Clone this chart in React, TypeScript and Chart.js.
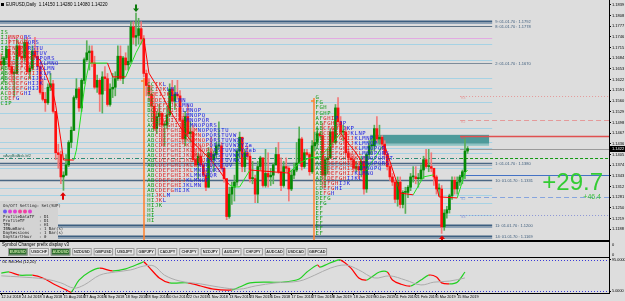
import React, { useEffect, useRef } from 'react';
import { Chart, registerables } from 'chart.js';

Chart.register(...registerables);

/* ----------------------------- data ----------------------------- */
const openP = [
  1.1675, 1.1665, 1.1685, 1.1710, 1.1660, 1.1640, 1.1640, 1.1720, 1.1690, 1.1685,
  1.1730, 1.1645, 1.1655, 1.1705, 1.1690, 1.1660, 1.1585, 1.1565, 1.1555, 1.1600,
  1.1610, 1.1530, 1.1410, 1.1405, 1.1340, 1.1345, 1.1375, 1.1440, 1.1475, 1.1570,
  1.1595, 1.1540, 1.1620, 1.1680, 1.1700, 1.1705, 1.1670, 1.1600, 1.1620, 1.1580,
  1.1630, 1.1625, 1.1550, 1.1595, 1.1600, 1.1625, 1.1690, 1.1625, 1.1685, 1.1665,
  1.1675, 1.1775, 1.1745, 1.1750, 1.1770, 1.1740, 1.1640, 1.1605, 1.1580, 1.1545,
  1.1480, 1.1515, 1.1525, 1.1490, 1.1490, 1.1520, 1.1595, 1.1560, 1.1580, 1.1575,
  1.1505, 1.1450, 1.1515, 1.1465, 1.1470, 1.1390, 1.1375, 1.1400, 1.1375, 1.1345,
  1.1310, 1.1410, 1.1390, 1.1405, 1.1430, 1.1430, 1.1365, 1.1335, 1.1225, 1.1290,
  1.1310, 1.1325, 1.1415, 1.1455, 1.1370, 1.1410, 1.1400, 1.1335, 1.1335, 1.1290,
  1.1370, 1.1395, 1.1315, 1.1350, 1.1340, 1.1345, 1.1375, 1.1405, 1.1355, 1.1315,
  1.1370, 1.1365, 1.1305, 1.1345, 1.1360, 1.1380, 1.1450, 1.1370, 1.1410, 1.1405,
  1.1355, 1.1430, 1.1440, 1.1465, 1.1460, 1.1345, 1.1390, 1.1395, 1.1470, 1.1440,
  1.1540, 1.1500, 1.1470, 1.1470, 1.1410, 1.1395, 1.1390, 1.1365, 1.1370, 1.1360,
  1.1385, 1.1305, 1.1405, 1.1430, 1.1430, 1.1480, 1.1450, 1.1455, 1.1435, 1.1405,
  1.1370, 1.1340, 1.1325, 1.1275, 1.1325, 1.1260, 1.1295, 1.1295, 1.1310, 1.1340,
  1.1340, 1.1335, 1.1335, 1.1360, 1.1390, 1.1370, 1.1370, 1.1365, 1.1340, 1.1305,
  1.1305, 1.1195, 1.1235, 1.1245, 1.1285, 1.1330, 1.1305, 1.1325, 1.1340, 1.1355,
  1.1415,
];
const highP = [
  1.1697, 1.1690, 1.1720, 1.1745, 1.1675, 1.1650, 1.1740, 1.1730, 1.1720, 1.1740,
  1.1745, 1.1665, 1.1720, 1.1745, 1.1715, 1.1665, 1.1625, 1.1585, 1.1610, 1.1640,
  1.1620, 1.1530, 1.1435, 1.1415, 1.1355, 1.1405, 1.1445, 1.1485, 1.1575, 1.1625,
  1.1600, 1.1625, 1.1685, 1.1735, 1.1720, 1.1720, 1.1690, 1.1635, 1.1625, 1.1645,
  1.1660, 1.1640, 1.1610, 1.1640, 1.1645, 1.1720, 1.1720, 1.1690, 1.1700, 1.1720,
  1.1790, 1.1790, 1.1815, 1.1800, 1.1790, 1.1750, 1.1650, 1.1625, 1.1605, 1.1585,
  1.1530, 1.1550, 1.1525, 1.1500, 1.1545, 1.1610, 1.1620, 1.1605, 1.1620, 1.1590,
  1.1515, 1.1530, 1.1550, 1.1500, 1.1490, 1.1415, 1.1410, 1.1430, 1.1385, 1.1360,
  1.1425, 1.1455, 1.1415, 1.1440, 1.1500, 1.1440, 1.1370, 1.1335, 1.1310, 1.1325,
  1.1345, 1.1420, 1.1470, 1.1455, 1.1420, 1.1430, 1.1410, 1.1385, 1.1345, 1.1385,
  1.1400, 1.1395, 1.1420, 1.1410, 1.1365, 1.1380, 1.1425, 1.1440, 1.1395, 1.1385,
  1.1395, 1.1370, 1.1360, 1.1380, 1.1440, 1.1485, 1.1455, 1.1420, 1.1420, 1.1410,
  1.1445, 1.1470, 1.1480, 1.1470, 1.1495, 1.1400, 1.1420, 1.1480, 1.1485, 1.1550,
  1.1570, 1.1515, 1.1490, 1.1485, 1.1420, 1.1410, 1.1405, 1.1385, 1.1385, 1.1400,
  1.1400, 1.1410, 1.1445, 1.1450, 1.1490, 1.1515, 1.1490, 1.1460, 1.1445, 1.1410,
  1.1380, 1.1350, 1.1330, 1.1340, 1.1340, 1.1300, 1.1310, 1.1315, 1.1350, 1.1370,
  1.1370, 1.1350, 1.1375, 1.1400, 1.1420, 1.1420, 1.1410, 1.1365, 1.1345, 1.1320,
  1.1315, 1.1245, 1.1255, 1.1290, 1.1340, 1.1340, 1.1340, 1.1345, 1.1360, 1.1450,
  1.1428,
];
const lowP = [
  1.1649, 1.1615, 1.1680, 1.1650, 1.1615, 1.1575, 1.1640, 1.1690, 1.1660, 1.1675,
  1.1640, 1.1625, 1.1650, 1.1685, 1.1650, 1.1580, 1.1560, 1.1530, 1.1550, 1.1590,
  1.1525, 1.1390, 1.1365, 1.1320, 1.1301, 1.1345, 1.1370, 1.1425, 1.1475, 1.1565,
  1.1530, 1.1530, 1.1610, 1.1675, 1.1650, 1.1660, 1.1595, 1.1585, 1.1530, 1.1525,
  1.1590, 1.1545, 1.1545, 1.1570, 1.1575, 1.1620, 1.1620, 1.1610, 1.1650, 1.1650,
  1.1670, 1.1725, 1.1720, 1.1725, 1.1725, 1.1630, 1.1575, 1.1560, 1.1500, 1.1475,
  1.1465, 1.1490, 1.1430, 1.1430, 1.1480, 1.1515, 1.1555, 1.1535, 1.1565, 1.1500,
  1.1435, 1.1430, 1.1460, 1.1440, 1.1385, 1.1370, 1.1335, 1.1370, 1.1340, 1.1300,
  1.1310, 1.1370, 1.1355, 1.1395, 1.1420, 1.1360, 1.1325, 1.1216, 1.1220, 1.1260,
  1.1270, 1.1315, 1.1395, 1.1355, 1.1355, 1.1390, 1.1325, 1.1320, 1.1265, 1.1265,
  1.1360, 1.1310, 1.1310, 1.1310, 1.1315, 1.1320, 1.1375, 1.1350, 1.1300, 1.1310,
  1.1355, 1.1270, 1.1300, 1.1335, 1.1355, 1.1380, 1.1360, 1.1365, 1.1400, 1.1345,
  1.1350, 1.1415, 1.1430, 1.1455, 1.1310, 1.1310, 1.1350, 1.1395, 1.1425, 1.1435,
  1.1485, 1.1455, 1.1445, 1.1400, 1.1380, 1.1370, 1.1355, 1.1355, 1.1335, 1.1340,
  1.1290, 1.1295, 1.1395, 1.1405, 1.1415, 1.1440, 1.1435, 1.1420, 1.1395, 1.1360,
  1.1330, 1.1315, 1.1265, 1.1255, 1.1250, 1.1250, 1.1234, 1.1280, 1.1300, 1.1325,
  1.1320, 1.1310, 1.1330, 1.1335, 1.1365, 1.1355, 1.1355, 1.1315, 1.1290, 1.1285,
  1.1176, 1.1185, 1.1220, 1.1235, 1.1275, 1.1290, 1.1290, 1.1315, 1.1320, 1.1335,
  1.1408,
];
const closeP = [
  1.1665, 1.1685, 1.1710, 1.1660, 1.1640, 1.1640, 1.1720, 1.1690, 1.1685, 1.1730,
  1.1645, 1.1655, 1.1705, 1.1690, 1.1660, 1.1585, 1.1565, 1.1555, 1.1600, 1.1610,
  1.1530, 1.1410, 1.1405, 1.1340, 1.1345, 1.1375, 1.1440, 1.1475, 1.1570, 1.1595,
  1.1540, 1.1620, 1.1680, 1.1700, 1.1705, 1.1670, 1.1600, 1.1620, 1.1580, 1.1630,
  1.1625, 1.1550, 1.1595, 1.1600, 1.1625, 1.1690, 1.1625, 1.1685, 1.1665, 1.1675,
  1.1775, 1.1745, 1.1750, 1.1770, 1.1740, 1.1640, 1.1605, 1.1580, 1.1545, 1.1480,
  1.1515, 1.1525, 1.1490, 1.1490, 1.1520, 1.1595, 1.1560, 1.1580, 1.1575, 1.1505,
  1.1450, 1.1515, 1.1465, 1.1470, 1.1390, 1.1375, 1.1400, 1.1375, 1.1345, 1.1310,
  1.1410, 1.1390, 1.1405, 1.1430, 1.1430, 1.1365, 1.1335, 1.1225, 1.1290, 1.1310,
  1.1325, 1.1415, 1.1455, 1.1370, 1.1410, 1.1400, 1.1335, 1.1335, 1.1290, 1.1370,
  1.1395, 1.1315, 1.1350, 1.1340, 1.1345, 1.1375, 1.1405, 1.1355, 1.1315, 1.1370,
  1.1365, 1.1305, 1.1345, 1.1360, 1.1380, 1.1450, 1.1370, 1.1410, 1.1405, 1.1355,
  1.1430, 1.1440, 1.1465, 1.1460, 1.1345, 1.1390, 1.1395, 1.1470, 1.1440, 1.1540,
  1.1500, 1.1470, 1.1470, 1.1410, 1.1395, 1.1390, 1.1365, 1.1370, 1.1360, 1.1385,
  1.1305, 1.1405, 1.1430, 1.1430, 1.1480, 1.1450, 1.1455, 1.1435, 1.1405, 1.1370,
  1.1340, 1.1325, 1.1275, 1.1325, 1.1260, 1.1295, 1.1295, 1.1310, 1.1340, 1.1340,
  1.1335, 1.1335, 1.1360, 1.1390, 1.1370, 1.1370, 1.1365, 1.1340, 1.1305, 1.1305,
  1.1195, 1.1235, 1.1245, 1.1285, 1.1330, 1.1305, 1.1325, 1.1340, 1.1355, 1.1415,
  1.1422,
];

const priceTicks = [
  1.1839, 1.1808, 1.1777, 1.1746, 1.1715, 1.1684, 1.1653, 1.1622, 1.1591, 1.1560,
  1.1529, 1.1498, 1.1467, 1.1436, 1.1405, 1.1374, 1.1343, 1.1312, 1.1281, 1.1250,
  1.1219, 1.1188,
];

const dateTickBars = [0, 8, 16, 24, 32, 40, 48, 56, 64, 72, 80, 88, 96, 104, 112, 120, 128, 136, 144, 152, 160, 168, 176];
const dateLabels = [
  '12 Jul 2018', '24 Jul 2018', '3 Aug 2018', '15 Aug 2018', '27 Aug 2018', '6 Sep 2018',
  '18 Sep 2018', '28 Sep 2018', '10 Oct 2018', '22 Oct 2018', '1 Nov 2018', '13 Nov 2018',
  '23 Nov 2018', '5 Dec 2018', '17 Dec 2018', '27 Dec 2018', '8 Jan 2019', '18 Jan 2019',
  '30 Jan 2019', '11 Feb 2019', '21 Feb 2019', '5 Mar 2019', '15 Mar 2019',
];

// trailing stop line (red = bearish, green = bullish)
const trailBars = [12, 15, 20, 21, 23, 24, 28, 29, 30, 31, 32, 33, 34, 41, 43, 48, 50, 52, 55, 57, 61, 65, 69, 73, 77, 81, 84, 88, 90, 92, 96, 111, 115, 119, 123, 127, 131, 132, 137, 141, 147, 148, 154, 159, 163, 167, 169, 176, 179, 180];
const trailPrices = [1.1694, 1.1679, 1.1583, 1.1548, 1.1447, 1.1389, 1.1389, 1.1418, 1.1476, 1.1534, 1.1592, 1.1635, 1.1670, 1.1670, 1.1630, 1.1630, 1.1665, 1.1700, 1.1743, 1.1641, 1.1592, 1.1534, 1.1485, 1.1447, 1.1418, 1.1389, 1.1360, 1.1317, 1.1311, 1.1311, 1.1360, 1.1351, 1.1380, 1.1395, 1.1398, 1.1430, 1.1467, 1.1456, 1.1409, 1.1360, 1.1427, 1.1432, 1.1293, 1.1288, 1.1340, 1.1346, 1.1282, 1.1279, 1.1351, 1.1360];
const trailUp = [0, 0, 0, 0, 0, 0, 1, 1, 1, 1, 1, 1, 1, 0, 0, 1, 1, 1, 0, 0, 0, 0, 0, 0, 0, 0, 0, 1, 1, 1, 0, 1, 1, 1, 1, 1, 0, 0, 0, 1, 0, 0, 0, 1, 1, 0, 0, 1, 1, 1];

// oscillator sub-window
const oscBars = [0, 3, 7, 12, 16, 21, 25, 27, 30, 34, 38, 43, 48, 54, 55, 57, 61, 65, 72, 77, 82, 89, 92, 96, 103, 109, 115, 118, 122, 123, 126, 128, 131, 135, 138, 141, 143, 146, 149, 151, 154, 158, 162, 165, 168, 170, 173, 176, 179];
const oscVals = [57, 60, 51, 51, 43, 23, 9, 3, 37, 60, 71, 63, 69, 86, 89, 74, 43, 29, 29, 20, 11, 9, 17, 29, 31, 31, 40, 60, 80, 74, 83, 89, 94, 71, 43, 37, 46, 60, 60, 37, 26, 20, 37, 51, 46, 29, 26, 31, 60];
const sigBars = [0, 7, 17, 23, 28, 32, 38, 44, 50, 55, 59, 63, 69, 77, 84, 92, 98, 106, 115, 121, 127, 133, 138, 144, 150, 156, 162, 167, 173, 179];
const sigVals = [49, 46, 40, 29, 14, 23, 51, 60, 66, 77, 77, 51, 34, 26, 17, 11, 20, 29, 34, 51, 71, 80, 66, 43, 49, 37, 23, 31, 34, 43];
const oscLevels = [95, 5];
const oscAxisLabels = ['95.0000', '5.0000'];

const arrowDownBars = [52];
const arrowUpBars = [24, 170];

const fibPrices = [1.1792, 1.1778, 1.1670, 1.1380, 1.1331, 1.1200, 1.1169];
const fibNumbers = [9, 8, 2, 1, 10, 11, 14];
const bandPrices = [1.17254, 1.1679, 1.16268, 1.15978, 1.15572, 1.15253, 1.14818, 1.14412, 1.14238, 1.14093, 1.13658, 1.13078, 1.12875, 1.12643, 1.12295];
const pinkPrices = [1.17428];
const pivotPrices = [1.1575, 1.1505, 1.1459, 1.13948, 1.1346, 1.1282, 1.1230];
const pivotNames = ['R3', 'R2', 'R1', 'PP', 'S1', 'S2', 'S3'];
const avgLinePrice = 1.13948;
const avgLineLabel = 'xAvgBidAsk.bf2';
const zonePrices = [1.1462, 1.1436];
const zoneBars = [142.4, 188.3];
const profileBars = [55.1, 120.7];
const profileTops = [1.16268, 1.15688];

const tpoRows1 = ['IS', 'IJMNPQRS', 'IJPTNOPQRS', 'IPTNOPQRSTU', 'IJKNOPQRSTUV', 'ACDIJKLMNOPQRS', 'ABCDEFGHIJKLMNO', 'ABCDEFGHIJKLMN', 'ABCDEFGHIJKLM', 'ABCDEFGHIJKL', 'ABCDEFGHIJK', 'ABCDEFGHIJ', 'ACDEFGHI', 'CDEFG', 'CIP'];
const tpoRows2 = ['CCIKL', 'BCIJKLM', 'BCEIJKLM', 'BCDEIJKLMN', 'BCDEFIJKLMNO', 'BCDEFHIJKLMNOP', 'CDEFGHIJKLMNOPQ', 'CDEFGHIJKLMNOPQR', 'ACDEFGHIJKLMNOPQRS', 'ABCDEFGHIJKLMNOPQRSTU', 'ABCDEFGHIJKLMNOPQRSTUVW', 'ABCDEFGHIJKLMNOPQRSTUVWXY', 'ABCDEFGHIJKLMNOPQRSTUVWXYZa', 'ABCDEFGHIJKLMNOPQRSTUVWXYZab', 'ABCDEFGHIJKLMNOPQRSTUVWXYZ', 'ABCDEFGHIJKLMNOPQRSTUVWX', 'ABCDEFGHIJKLMNOPQRSTUV', 'ABCDEFGHIJKLMNOPQRST', 'ABCDEFGHIJKLMNOPQR', 'ABCDEFGHIJKLMNOP', 'ABCDEFGHIJKLMN', 'ABCDEFGHIJK', 'HIJKLM', 'HIJKL', 'HIJK', 'HI', 'HI', 'HI'];
const tpoRows3 = ['G', 'FG', 'FGH', 'FGHP', 'AFGHIP', 'ABFGHIJP', 'ABCFGHIJKP', 'ABCDFGHIJKLNP', 'ABCDEFGHIJKLMNP', 'ABCDEFGHIJKLMNOP', 'ABCDEFGHIJKLMNOPQR', 'ABCDEFGHIJKLMNOPQRS', 'ABCDEFGHIJKLMNOPQRST', 'ABCDEFGHIJKLMNOPQRS', 'ABCDEFGHIJKLMNOPQ', 'ABCDEFGHIJKLMNO', 'ABCDEFGHIJKL', 'CDEFGHIJK', 'CDEFGHI', 'DEFGH', 'DEFG', 'EFG', 'EF', 'EF', 'EF', 'EF', 'EF', 'EF'];
const tpoStartBars = [-0.3, 56.3, 121.3];
const tpoTopPrices = [1.17573, 1.16065, 1.15688];

const infoLines = ['ProfileDataTF  : D1', 'ProfileTF      : D1', 'TPO            : H1', 'IBNumBars      : 1 Bar(s)', 'DaySessions    : 1 Bar(s)', 'DayStartHour   : 0'];
const infoTitle = 'On/Off Setting: Sel(SUP)';

const pipsBig = '+29.7';
const pipsSmall = '+46.4';

const symbols = ['EURUSD', 'USDCHF', 'AUDUSD', 'NZDUSD', 'GBPUSD', 'USDJPY', 'GBPJPY', 'CADJPY', 'CHFJPY', 'NZDJPY', 'AUDJPY', 'CHFJPY', 'AUDCAD', 'USDCAD', 'GBPCAD'];
const activeSymbols = ['EURUSD', 'AUDUSD'];
const panelTitle = 'Symbol Changer prefix display v3';
const oscTitle = 'OL Rel-Hrs (12,20)';

/* ----------------------------- styling ----------------------------- */
const SANS = '"Liberation Sans", Arial, sans-serif';
const MONO = '"DejaVu Sans Mono", "Liberation Mono", monospace';
const BG = '#DDDDDD';
const UP = '#068A06';
const DOWN = '#FF1010';
const UP_WICK = '#5AAE5A';
const DOWN_WICK = '#F07A7A';
const X_MIN = -0.5;
const X_MAX = 234.6;
const Y_MAX = 1.1853;
const Y_MIN = 1.1157;
const LEVEL_END_BAR = 189.5;
const PIVOT_FROM_BAR = 177.1;
const ROW_STEP = 0.00146;

const fibStyles = [
  { c: '#3C5E80', w: 2, second: '#8EA3B8' },
  { c: '#5E7284', w: 1.2 },
  { c: '#7D8C9A', w: 1 },
  { c: '#4A6784', w: 1.5, second: '#9AAEC0' },
  { c: '#4A6784', w: 1.5 },
  { c: '#3C5E80', w: 2, second: '#8EA3B8' },
  { c: '#3C5E80', w: 2, second: '#8EA3B8' },
];
const pivotStyles = [
  { c: '#E49A9A', w: 1, d: [1, 2] },
  { c: '#E49A9A', w: 1, d: [5, 3] },
  { c: '#E05050', w: 1.5, d: [] },
  { c: '#119911', w: 1, d: [3, 2] },
  { c: '#4472C4', w: 1.2, d: [] },
  { c: '#86A4DE', w: 1, d: [5, 3] },
  { c: '#8C96D4', w: 1, d: [1, 2] },
];

function hLine(ctx: any, y: number, x0: number, x1: number, color: string, width: number, dash: number[]) {
  ctx.beginPath();
  ctx.strokeStyle = color;
  ctx.lineWidth = width;
  ctx.setLineDash(dash);
  ctx.moveTo(x0, y);
  ctx.lineTo(x1, y);
  ctx.stroke();
  ctx.setLineDash([]);
}

function tpoColor(col: number, len: number) {
  if (len <= 4 || col < 2) return '#109A10';
  if (col < 2 + Math.ceil((len - 2) * 0.55)) return '#E01818';
  return '#1818E0';
}

function drawArrow(ctx: any, cx: number, tip: number, s: number, color: string) {
  ctx.fillStyle = color;
  ctx.beginPath();
  ctx.moveTo(cx, tip);
  ctx.lineTo(cx - 3, tip + s * 3.5);
  ctx.lineTo(cx - 1, tip + s * 3.5);
  ctx.lineTo(cx - 1, tip + s * 7.5);
  ctx.lineTo(cx + 1, tip + s * 7.5);
  ctx.lineTo(cx + 1, tip + s * 3.5);
  ctx.lineTo(cx + 3, tip + s * 3.5);
  ctx.closePath();
  ctx.fill();
}

const mainOverlay = {
  id: 'mainOverlay',
  beforeDatasetsDraw(chart: any) {
    const { ctx, chartArea: ca } = chart;
    const xs = chart.scales.x;
    const ys = chart.scales.y;
    const X = (b: number) => xs.getPixelForValue(b);
    const PY = (p: number) => Math.round(ys.getPixelForValue(p)) + 0.5;
    ctx.save();
    ctx.beginPath();
    ctx.rect(ca.left, ca.top, ca.right - ca.left, ca.bottom - ca.top);
    ctx.clip();
    const xEnd = X(LEVEL_END_BAR);
    bandPrices.forEach((p) => hLine(ctx, PY(p), ca.left, xEnd, '#A6D2E4', 1, []));
    pinkPrices.forEach((p) => hLine(ctx, PY(p), ca.left, xEnd, '#E2AAE2', 1, []));
    // supply zone
    ctx.fillStyle = '#4E9A9A';
    const zt = ys.getPixelForValue(zonePrices[0]);
    const zb = ys.getPixelForValue(zonePrices[1]);
    ctx.fillRect(X(zoneBars[0]), zt, X(zoneBars[1]) - X(zoneBars[0]), zb - zt);
    ctx.fillStyle = '#8CC4C4';
    ctx.fillRect(X(zoneBars[0]), zb, X(zoneBars[1]) - X(zoneBars[0]), 2);
    // fib lines with labels
    ctx.font = `4px ${SANS}`;
    ctx.textBaseline = 'middle';
    fibPrices.forEach((p, k) => {
      const st = fibStyles[k];
      const y = PY(p);
      hLine(ctx, y, ca.left, xEnd, st.c, st.w, []);
      if (st.second) hLine(ctx, y + 2, ca.left, xEnd, st.second, 1, []);
      ctx.fillStyle = '#3A5A7A';
      ctx.fillText(`${fibNumbers[k]}: 01.01.70 : ${p.toFixed(4)}`, xEnd + 3, y);
    });
    // average line (dash-dot) across
    const ay = PY(avgLinePrice);
    hLine(ctx, ay, ca.left, X(PIVOT_FROM_BAR), '#2E8B77', 1, [4, 2, 1, 2]);
    ctx.fillStyle = '#2E6E5E';
    ctx.fillText(avgLineLabel, ca.left + 3, ay - 2.5);
    // pivot lines on the right
    const px0 = X(PIVOT_FROM_BAR);
    pivotPrices.forEach((p, k) => {
      const st = pivotStyles[k];
      const y = PY(p);
      hLine(ctx, y, px0, ca.right, st.c, st.w, st.d);
      if (pivotNames[k] !== 'PP') {
        ctx.font = `3.5px ${SANS}`;
        ctx.fillStyle = st.c;
        ctx.fillText(pivotNames[k], px0 + 1, y + 2);
      }
    });
    // bid line
    hLine(ctx, PY(closeP[closeP.length - 1]), px0, ca.right, '#9A9A9A', 1, []);
    // orange profile start lines
    ctx.strokeStyle = '#FF7F2A';
    ctx.lineWidth = 1.5;
    profileBars.forEach((b, k) => {
      const x = Math.round(X(b));
      ctx.beginPath();
      ctx.moveTo(x, ys.getPixelForValue(profileTops[k]));
      ctx.lineTo(x, ca.bottom);
      ctx.stroke();
      ctx.beginPath();
      ctx.moveTo(x - 3, ys.getPixelForValue(profileTops[k]) + 3);
      ctx.lineTo(x, ys.getPixelForValue(profileTops[k]) + 3);
      ctx.stroke();
    });
    ctx.restore();
  },
  afterDatasetsDraw(chart: any) {
    const { ctx, chartArea: ca } = chart;
    const xs = chart.scales.x;
    const ys = chart.scales.y;
    const X = (b: number) => xs.getPixelForValue(b);
    const Y = (p: number) => ys.getPixelForValue(p);
    ctx.save();
    // TPO letter profiles
    ctx.font = `5.5px ${MONO}`;
    ctx.textBaseline = 'middle';
    const cw = 3.9;
    [tpoRows1, tpoRows2, tpoRows3].forEach((rows, bk) => {
      rows.forEach((row, r) => {
        const y = Y(tpoTopPrices[bk] - r * ROW_STEP);
        let x = X(tpoStartBars[bk]);
        for (let c = 0; c < row.length; c++) {
          ctx.fillStyle = tpoColor(c, row.length);
          ctx.fillText(row[c], x, y);
          x += cw;
        }
      });
    });
    // arrows
    arrowDownBars.forEach((b) => drawArrow(ctx, Math.round(X(b)), Y(highP[b]) - 1, -1, '#0B7A0B'));
    arrowUpBars.forEach((b) => drawArrow(ctx, Math.round(X(b)), Y(lowP[b]) + 2, 1, '#E00000'));
    // profit numbers
    ctx.textAlign = 'right';
    ctx.textBaseline = 'alphabetic';
    ctx.fillStyle = '#33CC33';
    ctx.font = `24px ${SANS}`;
    ctx.fillText(pipsBig, ca.right - 6, 190);
    ctx.font = `7px ${SANS}`;
    ctx.fillStyle = '#3CC03C';
    ctx.fillText(pipsSmall, ca.right - 8, 198.5);
    // info panel lower-left
    ctx.textAlign = 'left';
    ctx.fillStyle = '#D3D3D3';
    ctx.fillRect(ca.left, ca.bottom - 39, 58, 39);
    ctx.font = `4px ${MONO}`;
    ctx.textBaseline = 'middle';
    ctx.fillStyle = '#222';
    ctx.fillText(infoTitle, ca.left + 3, ca.bottom - 34);
    const dots = ['#6A5AF0', '#E040D0', '#E040D0', '#F040A0', '#F040A0', '#E040D0'];
    dots.forEach((c, k) => {
      ctx.fillStyle = c;
      ctx.beginPath();
      ctx.arc(ca.left + 5 + k * 5, ca.bottom - 28.5, 2, 0, Math.PI * 2);
      ctx.fill();
    });
    ctx.fillStyle = '#222';
    infoLines.forEach((t, k) => ctx.fillText(t, ca.left + 3, ca.bottom - 23 + k * 4));
    ctx.restore();
  },
  afterDraw(chart: any) {
    const { ctx, chartArea: ca } = chart;
    const ys = chart.scales.y;
    ctx.save();
    // header
    ctx.fillStyle = '#000';
    ctx.fillRect(1, 3, 3, 3);
    ctx.font = `4.5px ${SANS}`;
    ctx.textBaseline = 'middle';
    const n = closeP.length - 1;
    ctx.fillText(`EURUSD,Daily  ${openP[n].toFixed(5)} ${highP[n].toFixed(5)} ${lowP[n].toFixed(5)} ${closeP[n].toFixed(5)}`, 6, 4.8);
    // current price label on axis
    const y = Math.round(ys.getPixelForValue(closeP[n]));
    ctx.fillStyle = '#000';
    ctx.fillRect(ca.right + 1, y - 3, 16, 6);
    ctx.fillStyle = '#FFF';
    ctx.font = `4px ${SANS}`;
    ctx.fillText(closeP[n].toFixed(4), ca.right + 3, y + 0.2);
    ctx.restore();
  },
};

const oscOverlay = {
  id: 'oscOverlay',
  beforeDraw(chart: any) {
    const { ctx, chartArea: ca } = chart;
    ctx.save();
    // symbol changer sub-window (top strip of this canvas)
    ctx.fillStyle = '#000';
    ctx.fillRect(0, 0, ca.right + 1, 2);
    ctx.fillRect(0, 17, ca.right + 1, 1);
    ctx.fillRect(ca.right, 0, 1, 18);
    ctx.font = `4.5px ${SANS}`;
    ctx.textBaseline = 'middle';
    ctx.fillText(panelTitle, 2, 4.8);
    ctx.font = `4px ${SANS}`;
    ctx.fillText('0', ca.right + 3, 5);
    ctx.fillText('0', ca.right + 3, 15);
    symbols.forEach((s, k) => {
      const x = 8 + k * 21.4;
      const active = activeSymbols.includes(s);
      ctx.fillStyle = active ? '#2E6E2E' : '#E8E8E8';
      ctx.fillRect(x, 8, 19.5, 7.5);
      ctx.strokeStyle = '#9A9A9A';
      ctx.lineWidth = 1;
      ctx.strokeRect(x + 0.5, 8.5, 18.5, 6.5);
      ctx.fillStyle = active ? '#BFE0A0' : '#303030';
      ctx.font = `bold 3.8px ${SANS}`;
      ctx.textAlign = 'center';
      ctx.fillText(s, x + 9.75, 12);
      ctx.textAlign = 'left';
    });
    ctx.restore();
  },
  beforeDatasetsDraw(chart: any) {
    const { ctx, chartArea: ca } = chart;
    const ys = chart.scales.y;
    ctx.save();
    oscLevels.forEach((v) => hLine(ctx, Math.round(ys.getPixelForValue(v)) + 0.5, ca.left, ca.right, '#3A3AD8', 1, [1, 2]));
    ctx.fillStyle = '#000';
    ctx.font = `4px ${SANS}`;
    ctx.textBaseline = 'middle';
    ctx.fillText(oscTitle, 2, ca.top + 4);
    ctx.restore();
  },
};

function mainConfig(): any {
  const idx = closeP.map((_, i) => i);
  return {
    type: 'bar',
    data: {
      datasets: [
        {
          type: 'line',
          data: trailBars.map((b, k) => ({ x: b, y: trailPrices[k] })),
          borderWidth: 1,
          pointRadius: 0,
          borderColor: '#FF0000',
          segment: { borderColor: (c: any) => (trailUp[c.p0DataIndex] ? '#22E022' : '#FF0000') },
          order: 0,
        },
        {
          type: 'bar',
          data: idx.map((i) => ({ x: i, y: [openP[i], closeP[i]] })),
          backgroundColor: (c: any) => (closeP[c.dataIndex] >= openP[c.dataIndex] ? UP : DOWN),
          barThickness: 2,
          minBarLength: 1,
          grouped: false,
          order: 1,
        },
        {
          type: 'bar',
          data: idx.map((i) => ({ x: i, y: [lowP[i], highP[i]] })),
          backgroundColor: (c: any) => (closeP[c.dataIndex] >= openP[c.dataIndex] ? UP_WICK : DOWN_WICK),
          barThickness: 1,
          grouped: false,
          order: 2,
        },
      ],
    },
    options: {
      animation: false,
      responsive: false,
      maintainAspectRatio: false,
      layout: { padding: 0 },
      plugins: { legend: { display: false }, tooltip: { enabled: false } },
      scales: {
        x: { type: 'linear', min: X_MIN, max: X_MAX, display: false, offset: false },
        y: {
          position: 'right',
          min: Y_MIN,
          max: Y_MAX,
          afterFit: (s: any) => { s.width = 16; s.paddingTop = 0; s.paddingBottom = 0; },
          afterBuildTicks: (s: any) => { s.ticks = priceTicks.map((v) => ({ value: v })); },
          ticks: {
            autoSkip: false,
            padding: 1,
            color: '#000',
            font: { size: 4, family: SANS },
            callback: (v: any) => Number(v).toFixed(4),
          },
          grid: { drawOnChartArea: false, tickLength: 2, color: '#000' },
          border: { display: true, color: '#000' },
        },
      },
    },
    plugins: [mainOverlay],
  };
}

function oscConfig(): any {
  return {
    type: 'line',
    data: {
      datasets: [
        {
          data: sigBars.map((b, k) => ({ x: b, y: sigVals[k] })),
          borderColor: '#ABABAB',
          borderWidth: 1,
          pointRadius: 0,
          tension: 0.35,
        },
        {
          data: oscBars.map((b, k) => ({ x: b, y: oscVals[k] })),
          borderColor: '#FF0000',
          borderWidth: 1.2,
          pointRadius: 0,
          tension: 0.3,
          segment: { borderColor: (c: any) => (c.p1.parsed.y >= c.p0.parsed.y ? '#22D022' : '#FF0000') },
        },
      ],
    },
    options: {
      animation: false,
      responsive: false,
      maintainAspectRatio: false,
      layout: { padding: { top: 18 } },
      plugins: { legend: { display: false }, tooltip: { enabled: false } },
      scales: {
        x: {
          type: 'linear',
          min: X_MIN,
          max: X_MAX,
          offset: false,
          afterFit: (s: any) => { s.height = 8; s.paddingLeft = 0; s.paddingRight = 0; },
          afterBuildTicks: (s: any) => { s.ticks = dateTickBars.map((v) => ({ value: v })); },
          ticks: {
            autoSkip: false,
            maxRotation: 0,
            align: 'start',
            padding: 0,
            color: '#000',
            font: { size: 3.8, family: SANS },
            callback: (_v: any, i: number) => dateLabels[i],
          },
          grid: { drawOnChartArea: false, tickLength: 2, color: '#000' },
          border: { display: true, color: '#000' },
        },
        y: {
          position: 'right',
          min: 0,
          max: 100,
          afterFit: (s: any) => { s.width = 16; s.paddingTop = 0; s.paddingBottom = 0; },
          afterBuildTicks: (s: any) => { s.ticks = oscLevels.map((v) => ({ value: v })); },
          ticks: {
            autoSkip: false,
            padding: 1,
            color: '#000',
            font: { size: 3.8, family: SANS },
            callback: (_v: any, i: number) => oscAxisLabels[i],
          },
          grid: { drawOnChartArea: false, tickLength: 2, color: '#000' },
          border: { display: true, color: '#000' },
        },
      },
    },
    plugins: [oscOverlay],
  };
}

export default function App() {
  const mainRef = useRef<HTMLCanvasElement>(null);
  const oscRef = useRef<HTMLCanvasElement>(null);
  useEffect(() => {
    const c1 = new Chart(mainRef.current as HTMLCanvasElement, mainConfig());
    const c2 = new Chart(oscRef.current as HTMLCanvasElement, oscConfig());
    return () => {
      c1.destroy();
      c2.destroy();
    };
  }, []);
  return (
    <div style={{ position: 'fixed', left: 0, top: 0, width: 625, height: 301, background: BG, overflow: 'hidden' }}>
      <canvas ref={mainRef} width={625} height={240} style={{ position: 'absolute', left: 0, top: 0, width: 625, height: 240 }} />
      <canvas ref={oscRef} width={625} height={61} style={{ position: 'absolute', left: 0, top: 240, width: 625, height: 61 }} />
    </div>
  );
}
